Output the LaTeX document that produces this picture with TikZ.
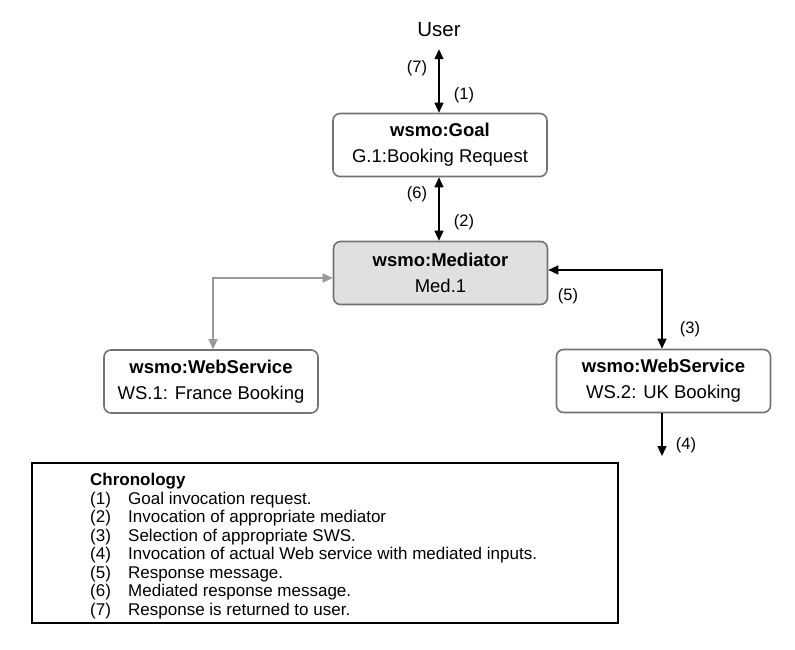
\documentclass[tikz,border=0pt]{standalone}
\usepackage{fontspec}
\setmainfont{Liberation Sans}
\usetikzlibrary{arrows.meta}
\begin{document}
\begin{tikzpicture}[x=1pt,y=-1pt,
  font=\fontsize{17}{20}\selectfont,
  wbox/.style={draw=black!55,line width=1.6pt,rounded corners=7pt,fill=white,
    minimum width=214pt,minimum height=63pt,inner sep=0pt,align=center,
    font=\fontsize{18.5}{26}\selectfont},
  medbox/.style={wbox,fill=black!12},
  tip/.style={Triangle[length=10pt,width=9pt]},
  conn/.style={line width=1.3pt,{Triangle[length=10pt,width=9pt]}-{Triangle[length=10pt,width=9pt]}},
  gconn/.style={conn,color=black!40},
  lbl/.style={inner sep=0pt,font=\fontsize{16.5}{18}\selectfont},
  chron/.style={inner sep=0pt,anchor=west,font=\fontsize{17}{20}\selectfont}
]
\useasboundingbox (0,0) rectangle (795,649);
\fill[white] (0,0) rectangle (795,649);

\node[inner sep=0pt,minimum height=38pt,font=\fontsize{20.5}{22}\selectfont] (user) at (439,30) {User};
\node[wbox] (goal) at (440,145) {\textbf{wsmo:Goal}\\G.1:Booking Request};
\node[medbox] (med) at (440.5,273) {\textbf{wsmo:Mediator}\\Med.1};
\node[wbox] (ws1) at (211,381.5) {\textbf{wsmo:WebService}\\WS.1: France Booking};
\node[wbox] (ws2) at (663.5,381) {\textbf{wsmo:WebService}\\WS.2: UK Booking};

\draw[conn] (user.south) -- (user.south |- goal.north);
\draw[conn] (user.south |- goal.south) -- (user.south |- med.north);
\draw[conn] ([yshift=3pt]med.east) -| ([xshift=-1.5pt]ws2.north);
\draw[gconn] ([yshift=-5pt]med.west) -| ([xshift=2pt]ws1.north);
\coordinate (out4) at (662,456);
\draw[line width=1.3pt,-{Triangle[length=10pt,width=9pt]}] ([xshift=-1.5pt]ws2.south) -- (out4);

\node[lbl] (l7) at (417,68) {(7)};
\node[lbl] (l1) at (464,95) {(1)};
\node[lbl] (l6) at (417,194) {(6)};
\node[lbl] (l2) at (464,222) {(2)};
\node[lbl] (l5) at (568,296) {(5)};
\node[lbl] (l3) at (690,329) {(3)};
\node[lbl] (l4) at (686,445) {(4)};

\draw[line width=1.2pt] (32,463) rectangle (618,623);
\node[chron] (chead) at (90,481) {\textbf{Chronology}};
\foreach \i/\t [count=\k from 0] in {1/Goal invocation request.,
  2/Invocation of appropriate mediator,
  3/Selection of appropriate SWS.,
  4/Invocation of actual Web service with mediated inputs.,
  5/Response message.,
  6/Mediated response message.,
  7/Response is returned to user.}{
  \node[chron] (n\i) at (90,{500+18.5*\k}) {(\i)};
  \node[chron] (t\i) at (128,{500+18.5*\k}) {\t};
}
\end{tikzpicture}
\end{document}
